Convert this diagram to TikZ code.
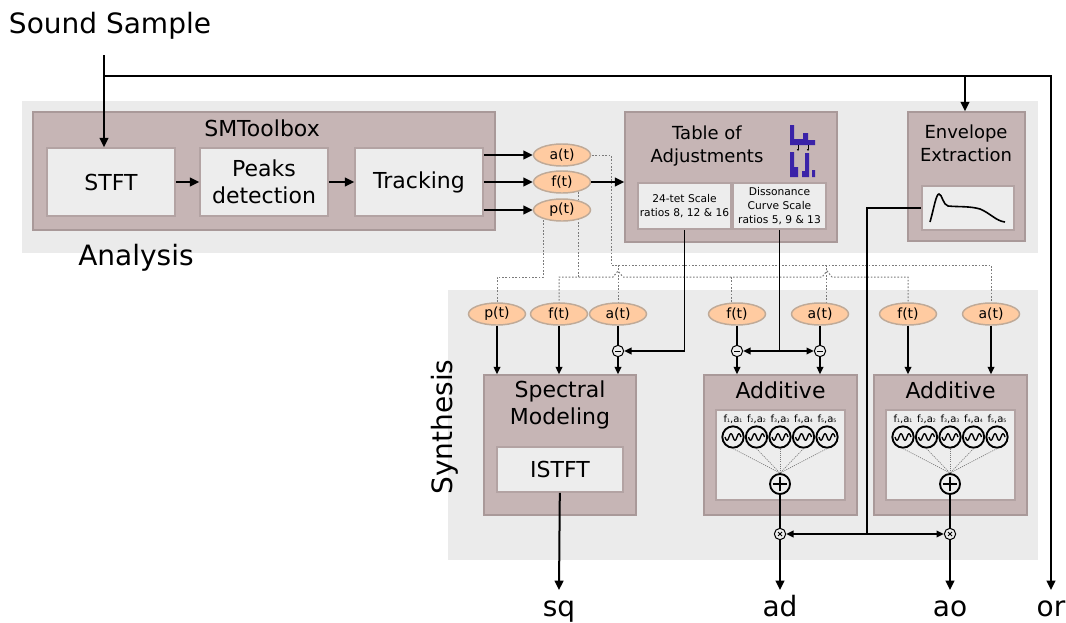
\documentclass[tikz,border=0pt]{standalone}
\usepackage{fontspec}
\setmainfont{DejaVu Sans}
\usetikzlibrary{shapes.geometric,arrows.meta,calc}
\pgfdeclarelayer{back}
\pgfdeclarelayer{mid}
\pgfsetlayers{back,mid,main}
\definecolor{band}{HTML}{EBEBEB}
\definecolor{mauve}{HTML}{C6B5B5}
\definecolor{mauveb}{HTML}{A99999}
\definecolor{innerc}{HTML}{EDEDED}
\definecolor{innerb}{HTML}{B3A3A3}
\definecolor{peach}{HTML}{FFCBA1}
\definecolor{peachb}{HTML}{BFAA98}
\definecolor{dotc}{HTML}{7A7A7A}
\definecolor{iconblue}{HTML}{3A22A8}
\tikzset{
  bandbox/.style={fill=band, draw=none, inner sep=0pt},
  outerbox/.style={fill=mauve, draw=mauveb, line width=1.2pt, inner sep=0pt},
  innerbox/.style={fill=innerc, draw=innerb, line width=1.2pt, inner sep=0pt},
  param/.style={ellipse, fill=peach, draw=peachb, line width=1.1pt, minimum width=42.75pt, minimum height=16.5pt, inner sep=0pt, font=\fontsize{10.5}{12}\selectfont},
  bigtxt/.style={font=\fontsize{21}{24}\selectfont, inner sep=0pt},
  titletxt/.style={font=\fontsize{16.5}{20.5}\selectfont, align=center},
  midtxt/.style={font=\fontsize{13.5}{17}\selectfont, align=center, inner sep=0pt},
  smalltxt/.style={font=\fontsize{8}{10.8}\selectfont, align=center},
  outtxt/.style={font=\fontsize{21}{24}\selectfont, text height=15.5pt, text depth=4.5pt, inner xsep=0pt, inner ysep=4pt, anchor=north},
  mainline/.style={line width=1.5pt},
  mainarr/.style={line width=1.5pt, -{Triangle[length=7pt,width=6.5pt]}},
  thinline/.style={line width=1.1pt},
  thinarr/.style={line width=1.1pt, -{Triangle[length=5.5pt,width=5pt]}},
  dotline/.style={draw=dotc, line width=0.75pt, dash pattern=on 1.2pt off 1.3pt},
  oscdot/.style={draw=dotc, line width=0.5pt, dash pattern=on 0.8pt off 0.8pt},
  minuscirc/.style={circle, draw, fill=innerc, line width=0.75pt, minimum size=8.5pt, inner sep=0pt,
     path picture={\draw[line width=0.7pt] ([xshift=-2.2pt]path picture bounding box.center) -- ([xshift=2.2pt]path picture bounding box.center);}},
  timescirc/.style={circle, draw, fill=innerc, line width=0.75pt, minimum size=8.5pt, inner sep=0pt,
     path picture={\draw[line width=0.6pt] ([shift={(-1.5pt,-1.5pt)}]path picture bounding box.center) -- ([shift={(1.5pt,1.5pt)}]path picture bounding box.center) ([shift={(-1.5pt,1.5pt)}]path picture bounding box.center) -- ([shift={(1.5pt,-1.5pt)}]path picture bounding box.center);}},
  pluscirc/.style={circle, draw, fill=innerc, line width=1.4pt, minimum size=15pt, inner sep=0pt,
     path picture={\draw[line width=1.4pt] ([xshift=-5.5pt]path picture bounding box.center) -- ([xshift=5.5pt]path picture bounding box.center) ([yshift=-5.5pt]path picture bounding box.center) -- ([yshift=5.5pt]path picture bounding box.center);}},
  osc/.style={circle, draw, fill=innerc, line width=1.4pt, minimum size=16pt, inner sep=0pt},
  osclab/.style={font=\fontsize{7.5}{8}\selectfont, inner sep=0pt},
}
\newcommand{\oscsub}[1]{\raisebox{-0.5pt}{\fontsize{3.5}{4}\selectfont #1}}
\begin{document}
\begin{tikzpicture}[x=0.75pt, y=-0.75pt]
\useasboundingbox (0,0) rectangle (1066,622);
\begin{pgfonlayer}{back}
\fill[white] (0,0) rectangle (1066,622);
\node[bandbox, minimum width=762pt, minimum height=114pt] (anaband) at (530,177) {};
\node[bandbox, minimum width=442.5pt, minimum height=202.5pt] (synband) at (743,425) {};
\end{pgfonlayer}

% labels
\node[bigtxt] (ss) at (110,26) {Sound Sample};
\node[bigtxt] (ana) at (136,258) {Analysis};
\node[bigtxt, rotate=90] (syn) at (445,427) {Synthesis};

% analysis
\node[outerbox, minimum width=346.5pt, minimum height=88.5pt] (smt) at (264,171) {};
\node[titletxt, inner sep=0pt] (smtt) at (262,128) {SMToolbox};
\node[innerbox, titletxt, minimum width=96pt, minimum height=51pt] (stft) at (111,182) {STFT};
\node[innerbox, titletxt, minimum width=96pt, minimum height=51pt] (peaks) at (264,182) {Peaks\\detection};
\node[innerbox, titletxt, minimum width=96pt, minimum height=51pt] (track) at (419,182) {Tracking};
\draw[mainarr] (stft) -- (peaks);
\draw[mainarr] (peaks) -- (track);

\node[param] (at1) at (562,155) {a(t)};
\node[param] (ft1) at (562,182) {f(t)};
\node[param] (pt1) at (562,210) {p(t)};
\draw[mainarr] (track.east |- at1) -- (at1);
\draw[mainarr] (track.east |- ft1) -- (ft1);
\draw[mainarr] (track.east |- pt1) -- (pt1);

\node[outerbox, minimum width=159pt, minimum height=97.5pt] (tab) at (731,177) {};
\node[midtxt] (tabt) at (707,146) {Table of\\Adjustments};
\node[innerbox, smalltxt, minimum width=69.75pt, minimum height=34.5pt] (tet) at (684.5,206) {24-tet Scale\\ratios 8, 12 \& 16};
\node[innerbox, smalltxt, minimum width=69.75pt, minimum height=34.5pt] (diss) at (779.5,206) {Dissonance\\Curve Scale\\ratios 5, 9 \& 13};
\draw[mainarr] (ft1) -- (ft1 -| tab.west);
% icon
\fill[iconblue] (790,125) rectangle (794,145) (794,139) rectangle (803,145) (803,133) rectangle (808,145) (808,140) rectangle (815,145);
\fill[iconblue] (790,152) rectangle (794,177) (794,167) rectangle (798,177) (805,153) rectangle (809,177) (802,171) rectangle (805,177) (812,170) rectangle (815,177);
\draw[line width=0.4pt, -{Triangle[length=1.5pt,width=1.5pt]}] (798,145) -- (798,151);
\draw[line width=0.4pt, -{Triangle[length=1.5pt,width=1.5pt]}] (808,145) -- (808,151);

\node[outerbox, minimum width=87.75pt, minimum height=96.75pt] (env) at (966.5,176.5) {};
\node[midtxt] (envt) at (966,143) {Envelope\\Extraction};
\node[innerbox, minimum width=69pt, minimum height=33pt] (envin) at (968,208) {};
\draw[line width=1.2pt] (930,222) .. controls (934,208) and (936,194) .. (939,194) .. controls (942,194) and (943,205) .. (948,206) .. controls (958,207) and (970,206) .. (980,209) .. controls (990,213) and (996,221) .. (1005,222);

% outputs
\node[outtxt] (sql) at (559,590) {sq};
\node[outtxt] (adl) at (780,590) {ad};
\node[outtxt] (aol) at (950,590) {ao};
\node[outtxt] (orl) at (1051,590) {or};

% sound sample lines
\coordinate (s0) at (104,55);
\coordinate (sj) at (104,76);
\coordinate (sr) at (1051,76);
\coordinate (se) at (965,76);
\draw[mainarr] (s0) -- (s0 |- stft.north);
\draw[mainarr] (sj) -- (sr) -- (orl.north);
\draw[mainarr] (se) -- (se |- env.north);

% synthesis
\node[param] (p2) at (497,314) {p(t)};
\node[param] (f2) at (559,314) {f(t)};
\node[param] (a2) at (618,314) {a(t)};
\node[param] (f3) at (737,314) {f(t)};
\node[param] (a3) at (820,314) {a(t)};
\node[param] (f4) at (908,314) {f(t)};
\node[param] (a4) at (991,314) {a(t)};

\node[outerbox, minimum width=114pt, minimum height=105pt] (sm) at (560,445) {};
\node[titletxt, inner sep=0pt] (smt2) at (560,405) {Spectral\\Modeling};
\node[innerbox, titletxt, minimum width=94.5pt, minimum height=33.75pt] (istft) at (560,469.5) {ISTFT};

\node[outerbox, minimum width=114.75pt, minimum height=105pt] (add1) at (780.5,445) {};
\node[titletxt, inner sep=0pt] (add1t) at (780.5,390) {Additive};
\node[innerbox, minimum width=96.75pt, minimum height=67.5pt] (add1in) at (780.5,455) {};
\node[outerbox, minimum width=114.75pt, minimum height=105pt] (add2) at (950.5,445) {};
\node[titletxt, inner sep=0pt] (add2t) at (950.5,390) {Additive};
\node[innerbox, minimum width=96.75pt, minimum height=67.5pt] (add2in) at (950.5,455) {};

\node[minuscirc] (m2) at (618,351) {};
\node[minuscirc] (m3) at (737,351) {};
\node[minuscirc] (m4) at (820,351) {};

\node[pluscirc] (pl1) at (780,484) {};
\node[pluscirc] (pl2) at (950,484) {};
\node[timescirc] (x1) at (780,534) {};
\node[timescirc] (x2) at (950,534) {};

\foreach \k/\cx in {1/780, 2/950}{
  \foreach \i in {1,...,5}{
    \node[osc] (o\k-\i) at ({\cx+(\i-3)*23.5},437) {};
    \draw[line width=1pt, shift={(o\k-\i.center)}] plot[domain=-8:8, samples=50, smooth] (\x,{3.3*sin(\x*360/8)});
    \node[osclab] (l\k-\i) at ({\cx+(\i-3)*23.5},419) {f\oscsub{\i},a\oscsub{\i}};
    \draw[oscdot] (o\k-\i.south) -- (pl\k.north);
  }
}

\draw[thinarr] (p2) -- (p2 |- sm.north);
\draw[thinarr] (f2) -- (f2 |- sm.north);
\draw[thinline] (a2) -- (m2);
\draw[thinarr] (m2) -- (m2 |- sm.north);
\draw[thinline] (f3) -- (m3);
\draw[thinarr] (m3) -- (m3 |- add1.north);
\draw[thinline] (a3) -- (m4);
\draw[thinarr] (m4) -- (m4 |- add1.north);
\draw[thinarr] (f4) -- (f4 |- add2.north);
\draw[thinarr] (a4) -- (a4 |- add2.north);

\draw[thinarr] (tet.south) |- (m2);
\draw[thinline] (diss.south) -- (diss.south |- m3) coordinate (dj);
\draw[thinarr] (dj) -- (m3);
\draw[thinarr] (dj) -- (m4);

\draw[thinline] (envin.west) -- ++(-54,0) coordinate (ej1) -- (ej1 |- x1) coordinate (ej2);
\draw[thinarr] (ej2) -- (x1);
\draw[thinarr] (ej2) -- (x2);

\draw[thinline] (pl1) -- (x1);
\draw[thinline] (pl2) -- (x2);
\draw[mainarr] (x1) -- (adl.north);
\draw[mainarr] (x2) -- (aol.north);
\draw[mainarr] (istft) -- (sql.north);

% dotted routing
\begin{pgfonlayer}{mid}
\coordinate (yf) at (0,277);
\coordinate (ya) at (0,265);
\draw[dotline] (at1.center) -- (611,155) -- (611,265) -| (a4.center);
\draw[dotline] (a2.center |- ya) -- (a2.center);
\coordinate (a3d) at ([xshift=5pt]a3.center);
\draw[dotline] (a3d |- ya) -- (a3d);
\coordinate (ft1d) at ([xshift=12pt]ft1.center);
\draw[dotline] (ft1d) -- (ft1d |- yf);
\draw[dotline] (f2.center) -- (f2.center |- yf) -- (613,277) -- (618,271) -- (623,277) -- (822,277) -- (827,271) -- (832,277) -| (f4.center);
\coordinate (f3d) at ([xshift=-4pt]f3.center);
\draw[dotline] (f3d |- yf) -- (f3d);
\coordinate (pt1d) at ([xshift=-14pt]pt1.center);
\draw[dotline] (pt1d) |- (p2.center |- yf) -- (p2.center);
\end{pgfonlayer}
\end{tikzpicture}
\end{document}
